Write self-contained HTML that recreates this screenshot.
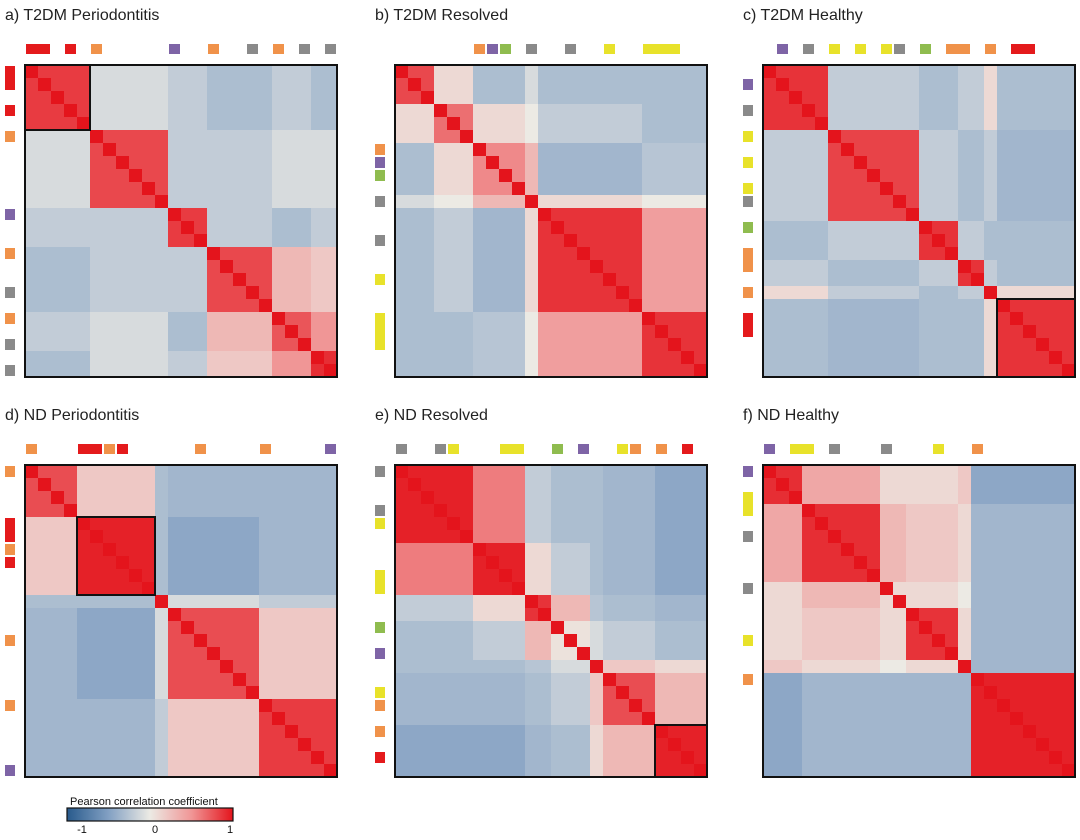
<!DOCTYPE html>
<html><head><meta charset="utf-8"><style>
body{margin:0;background:#fff;width:1080px;height:835px;overflow:hidden;font-family:"Liberation Sans",sans-serif}
</style></head><body>
<svg id="s" width="1080" height="835" xmlns="http://www.w3.org/2000/svg"></svg>
<script>
const panelTitles=["a) T2DM Periodontitis","b) T2DM Resolved","c) T2DM Healthy","d) ND Periodontitis","e) ND Resolved","f) ND Healthy"];
const clusterSizes=[[5,6,3,5,3,2],[3,3,4,1,8,5],[5,7,3,2,1,6],[4,6,1,7,6],[6,4,2,3,1,4,4],[3,6,2,4,1,8]];
const blockValues=[
[[.85,-.1,-.2,-.3,-.2,-.3],[-.1,.8,-.2,-.2,-.1,-.1],[-.2,-.2,.85,-.2,-.3,-.2],[-.3,-.2,-.2,.8,.3,.2],[-.2,-.1,-.3,.3,.75,.5],[-.3,-.1,-.2,.2,.5,.9]],
[[.8,.1,-.3,-.1,-.3,-.3],[.1,.65,.1,.0,-.2,-.3],[-.3,.1,.55,.3,-.35,-.25],[-.1,0,.3,1,.1,0],[-.3,-.2,-.35,.1,.88,.45],[-.3,-.3,-.25,0,.45,.88]],
[[.88,-.2,-.3,-.2,.1,-.3],[-.2,.82,-.2,-.3,-.2,-.35],[-.3,-.2,.88,-.2,-.3,-.3],[-.2,-.3,-.2,.88,-.2,-.3],[.1,-.2,-.3,-.2,1,.1],[-.3,-.35,-.3,-.3,.1,.88]],
[[.78,.2,-.3,-.35,-.35],[.2,.95,-.3,-.45,-.35],[-.3,-.3,1,-.1,-.2],[-.35,-.45,-.1,.78,.2],[-.35,-.35,-.2,.2,.85]],
[[.95,.6,-.2,-.3,-.3,-.35,-.45],[.6,.95,.1,-.2,-.3,-.35,-.45],[-.2,.1,.88,.3,-.25,-.3,-.35],[-.3,-.2,.3,.05,-.1,-.2,-.3],[-.3,-.3,-.25,-.1,1,.2,.1],[-.35,-.35,-.3,-.2,.2,.78,.3],[-.45,-.45,-.35,-.3,.1,.3,.95]],
[[.9,.4,.1,.1,.2,-.45],[.4,.9,.3,.2,.1,-.35],[.1,.3,.1,.1,0,-.35],[.1,.2,.1,.88,.1,-.35],[.2,.1,0,.1,1,-.35],[-.45,-.35,-.35,-.35,-.35,.95]]];
const boxedCluster=[0,-1,5,1,6,-1];
const topMarks=[[[0,2,'r'],[3,1,'r'],[5,1,'o'],[11,1,'p'],[14,1,'o'],[17,1,'g'],[19,1,'o'],[21,1,'g'],[23,1,'g']],
[[6,1,'o'],[7,1,'p'],[8,1,'l'],[10,1,'g'],[13,1,'g'],[16,1,'y'],[19,3,'y']],
[[1,1,'p'],[3,1,'g'],[5,1,'y'],[7,1,'y'],[9,1,'y'],[10,1,'g'],[12,1,'l'],[14,2,'o'],[17,1,'o'],[19,2,'r']],
[[0,1,'o'],[4,2,'r'],[6,1,'o'],[7,1,'r'],[13,1,'o'],[18,1,'o'],[23,1,'p']],
[[0,1,'g'],[3,1,'g'],[4,1,'y'],[8,2,'y'],[12,1,'l'],[14,1,'p'],[17,1,'y'],[18,1,'o'],[20,1,'o'],[22,1,'r']],
[[0,1,'p'],[2,2,'y'],[5,1,'g'],[9,1,'g'],[13,1,'y'],[16,1,'o']]];
const markColors={r:'#e41a1c',o:'#f0924a',p:'#7e64a6',g:'#8a8a8a',y:'#e8e22a',l:'#8fbc4f'};
const origins=[[25,65],[395,65],[763,65],[25,465],[395,465],[763,465]];
const S=document.getElementById('s');const NS='http://www.w3.org/2000/svg';
function el(t,a,p){const e=document.createElementNS(NS,t);for(const k in a)e.setAttribute(k,a[k]);(p||S).appendChild(e);return e;}
function lerp(a,b,t){return a.map((v,i)=>Math.round(v+(b[i]-v)*t));}
const stops=[[-1,[40,90,140]],[-.5,[130,160,195]],[0,[236,234,228]],[.5,[240,150,150]],[1,[228,20,28]]];
function col(v){v=Math.max(-1,Math.min(1,v));for(let i=0;i<stops.length-1;i++){if(v<=stops[i+1][0]){const t=(v-stops[i][0])/(stops[i+1][0]-stops[i][0]);return 'rgb('+lerp(stops[i][1],stops[i+1][1],t).join(',')+')';}}return 'rgb(228,20,28)';}
const W=312;
panelTitles.forEach((title,p)=>{
 const [ox,oy]=origins[p];const g=el('g',{});
 
 
 const t=el('text',{x:ox-20,y:oy-45,'font-size':16,fill:'#222'},g);t.textContent=title;
 
 
 const sizes=clusterSizes[p];const n=sizes.reduce((a,b)=>a+b,0);const c=W/n;
 const cl=[];sizes.forEach((s,k)=>{for(let i=0;i<s;i++)cl.push(k);});
 for(let i=0;i<n;i++)for(let j=0;j<n;j++){
  const v=i===j?1:blockValues[p][cl[i]][cl[j]];
  const r=el('rect',{x:ox+j*c,y:oy+i*c,width:c+.5,height:c+.5,fill:col(v)},g);
  
  
 }
 const fr=el('rect',{x:ox,y:oy,width:W,height:W,fill:'none',stroke:'#111','stroke-width':2},g);
 
 
 const b=boxedCluster[p];
 if(b>=0){let st=0;for(let k=0;k<b;k++)st+=sizes[k];
  const bx=el('rect',{x:ox+st*c,y:oy+st*c,width:sizes[b]*c,height:sizes[b]*c,fill:'none',stroke:'#111','stroke-width':2},g);
  
  }
 topMarks[p].forEach(m=>{
  const a=el('rect',{x:ox+m[0]*c+1,y:oy-21,width:m[1]*c-2,height:10,fill:markColors[m[2]]},g);
  
  
  const l=el('rect',{x:ox-20,y:oy+m[0]*c+1,width:10,height:m[1]*c-2,fill:markColors[m[2]]},g);
  
  
 });
});
const lg=el('g',{});


const d=el('defs',{},lg);const gr=el('linearGradient',{id:'cb'},d);
stops.forEach(s=>el('stop',{offset:((s[0]+1)/2*100)+'%','stop-color':col(s[0])},gr));
const lt=el('text',{x:70,y:805,'font-size':11,fill:'#111'},lg);lt.textContent='Pearson correlation coefficient';


const cb=el('rect',{x:67,y:808,width:166,height:13,fill:'url(#cb)',stroke:'#111','stroke-width':1.2},lg);


[['-1',82],['0',155],['1',230]].forEach(q=>{const tt=el('text',{x:q[1],y:833,'font-size':11,'text-anchor':'middle',fill:'#111'},lg);tt.textContent=q[0];

});
</script>
</body></html>
